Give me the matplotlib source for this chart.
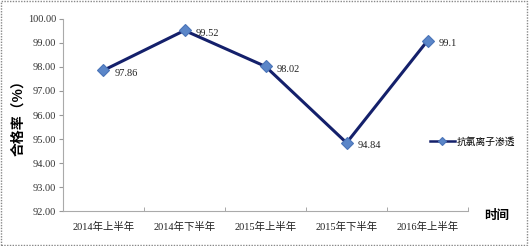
import matplotlib.pyplot as plt
from matplotlib.patches import Rectangle

periods = ["2014年上半年", "2014年下半年", "2015年上半年", "2015年下半年", "2016年上半年"]
rates = [97.86, 99.52, 98.02, 94.84, 99.1]
labels = ["97.86", "99.52", "98.02", "94.84", "99.1"]
series_name = "抗氯离子渗透"

cjk = ["Noto Sans CJK SC", "DejaVu Sans"]
serif = ["Liberation Serif", "Noto Sans CJK SC"]

fig = plt.figure(figsize=(5.29, 2.46), dpi=100)
ax = fig.add_axes([0.119, 0.142, 0.766, 0.781])

x = list(range(len(periods)))
ax.plot(x, rates, color="#14206b", lw=2.2, marker="D", markersize=6.5,
        markerfacecolor="#5b86c8", markeredgecolor="#4a74b8", markeredgewidth=0.8,
        label=series_name, zorder=3)

for xi, yi, t in zip(x, rates, labels):
    ax.annotate(t, (xi, yi), xytext=(8, -4), textcoords="offset points",
                fontsize=7.5, family="Liberation Serif", color="#222222")

ax.set_xlim(-0.5, len(periods) - 0.5)
ax.set_ylim(92, 100)
ax.set_yticks([92 + i for i in range(9)])
ax.set_yticklabels([f"{92 + i:.2f}" for i in range(9)], family="Liberation Serif",
                   fontsize=7.5, color="#333333")
ax.set_xticks(x)
ax.set_xticklabels(periods, fontsize=7.5, family=serif, color="#222222")
ax.set_xticks([i - 0.5 for i in range(len(periods) + 1)], minor=True)
ax.tick_params(axis="x", which="major", length=0, pad=8)
ax.tick_params(axis="x", which="minor", length=3, color="#999999", direction="in")
ax.tick_params(axis="y", length=3, color="#999999", direction="out", pad=2)

for s in ["top", "right"]:
    ax.spines[s].set_visible(False)
for s in ["left", "bottom"]:
    ax.spines[s].set_color("#aaaaaa")
    ax.spines[s].set_linewidth(0.8)

ax.set_ylabel("合格率（%）", family=cjk, fontsize=10, fontweight="bold", labelpad=2)

leg = ax.legend(loc="center left", bbox_to_anchor=(0.905, 0.36), frameon=False,
                prop={"family": cjk, "size": 7}, handlelength=2.6, handletextpad=0.2,
                borderaxespad=0, borderpad=0)
for h in leg.legend_handles:
    h.set_markersize(4)
    h.set_linewidth(1.8)

fig.text(0.915, 0.125, "时间", family=cjk, fontsize=9, fontweight="bold",
         ha="left", va="center")

fig.patches.append(Rectangle((0.002, 0.004), 0.995, 0.99, transform=fig.transFigure,
                             fill=False, edgecolor="#888888", lw=1, ls=(0, (1, 1))))

fig.savefig("out.png", dpi=100)
